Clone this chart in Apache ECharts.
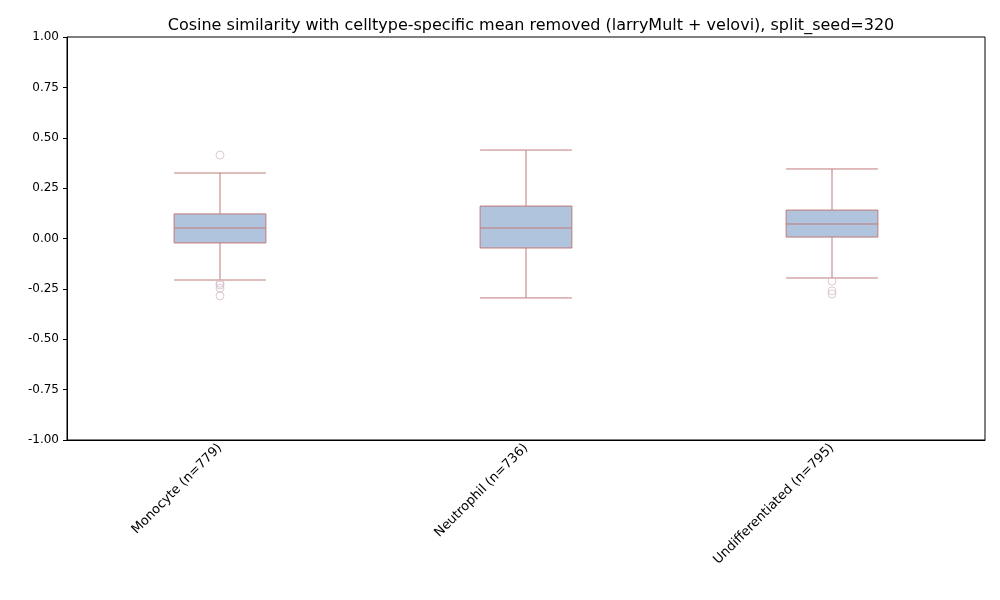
<!DOCTYPE html>
<html>
<head>
<meta charset="utf-8">
<script src="https://cdn.jsdelivr.net/npm/echarts@6/dist/echarts.min.js"></script>
<style>html,body{margin:0;padding:0;background:#fff}#main{width:1000px;height:600px}</style>
</head>
<body>
<div id="main"></div>
<script>
// box stats: [min whisker, Q1, median, Q3, max whisker]
const categories = ["Monocyte (n=779)", "Neutrophil (n=736)", "Undifferentiated (n=795)"];
const boxValues = [
  [-0.206, -0.022, 0.052, 0.122, 0.325],
  [-0.295, -0.047, 0.052, 0.161, 0.439],
  [-0.196, 0.007, 0.072, 0.141, 0.345],
];
const outliers = [
  [0, 0.414], [0, -0.222], [0, -0.231], [0, -0.246], [0, -0.285],
  [2, -0.211], [2, -0.26], [2, -0.275],
];
const yTicks = [-1, 1, 0.25];

const chart = echarts.init(document.getElementById("main"));
chart.setOption({
  animation: false,
  title: {
    text: "Cosine similarity with celltype-specific mean removed (larryMult + velovi), split_seed=320",
    left: 526, top: 13, textAlign: "center",
    textStyle: { fontSize: 16, fontWeight: "normal", color: "#000", fontFamily: "DejaVu Sans" },
  },
  grid: { left: 67, right: 15, top: 37, bottom: 160, show: true, borderColor: "#000", borderWidth: 1 },
  xAxis: {
    type: "category",
    data: categories,
    boundaryGap: true,
    axisLine: { onZero: false, lineStyle: { color: "#000" } },
    axisTick: { alignWithLabel: true, lineStyle: { color: "#000" }, length: 4 },
    axisLabel: { rotate: 45, color: "#000", fontSize: 13, fontFamily: "DejaVu Sans", margin: 6 },
    splitLine: { show: false },
  },
  yAxis: {
    type: "value",
    min: yTicks[0], max: yTicks[1], interval: yTicks[2],
    axisLine: { show: true, lineStyle: { color: "#000" } },
    axisTick: { show: true, lineStyle: { color: "#000" }, length: 4 },
    axisLabel: { color: "#000", fontSize: 12, fontFamily: "DejaVu Sans", formatter: v => v.toFixed(2) },
    splitLine: { show: false },
  },
  series: [
    {
      type: "boxplot",
      data: boxValues,
      boxWidth: ["30%", "30%"],
      itemStyle: { color: "#b0c4de", borderColor: "#c07a7a", borderWidth: 1 },
    },
    {
      type: "scatter",
      data: outliers,
      symbol: "circle",
      symbolSize: 8,
      itemStyle: { color: "rgba(255,255,255,0)", borderColor: "#d4bcc6", borderWidth: 1 },
    },
  ],
});
</script>
</body>
</html>
